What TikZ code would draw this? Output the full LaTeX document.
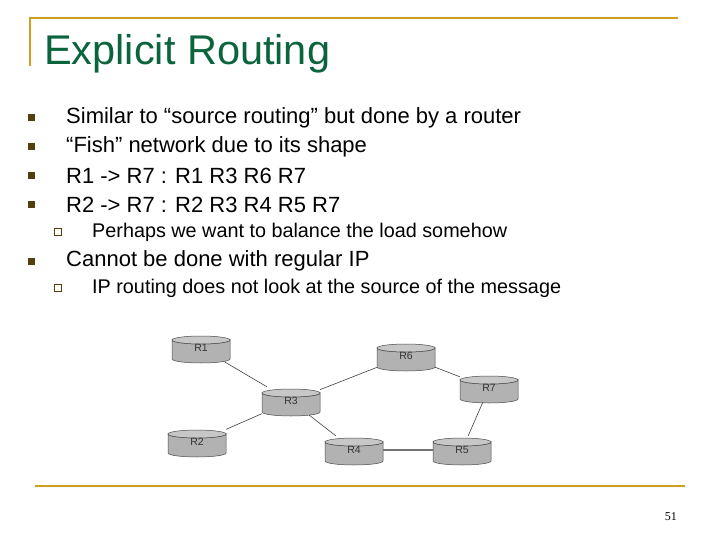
\documentclass[tikz,border=0pt]{standalone}
\usepackage{fontspec}
\setmainfont{Liberation Sans}
\newfontfamily\serifpg{Liberation Serif}
\definecolor{gold}{RGB}{204,160,30}
\definecolor{tgreen}{RGB}{10,100,60}
\begin{document}
\begin{tikzpicture}[x=1pt,y=-1pt,
 bul/.style={fill=black!60!gold, draw=none, minimum size=7pt, inner sep=0pt},
 sbul/.style={draw=black!60!gold, minimum size=6.5pt, inner sep=0pt, line width=0.6pt},
 txt/.style={anchor=west, font=\fontsize{22}{24}\selectfont, inner sep=0pt},
 stxt/.style={anchor=west, font=\fontsize{19.8}{22}\selectfont, inner sep=0pt},
 rt/.style={rectangle, minimum width=58pt, minimum height=28pt, inner sep=0pt, yshift=1pt, font=\fontsize{10.5}{12}\selectfont\color{black!80}},
 ln/.style={draw=black!75, line width=0.6pt}]
\useasboundingbox (0,0) rectangle (720,540);
\fill[white] (0,0) rectangle (720,540);
\draw[gold, line width=2.5pt] (30,18) -- (678,18);
\draw[gold, line width=2.5pt] (30,17) -- (30,66);
\node[anchor=base west, inner sep=0pt, text=tgreen, font=\fontsize{41.5}{46}\selectfont] (title) at (44,65) {Explicit Routing};
\foreach \y/\t [count=\i] in {118/{Similar to “source routing” but done by a router},147/{“Fish” network due to its shape},176/{R1 -> R7 : R1 R3 R6 R7},205/{R2 -> R7 : R2 R3 R4 R5 R7},261/{Cannot be done with regular IP}}{
 \node[bul] (b\i) at (31,\y) {};
 \node[txt] (t\i) at (66,\y) {\t};
}
\node[sbul] (s1) at (58,232) {};
\node[stxt] (st1) at (92,232) {Perhaps we want to balance the load somehow};
\node[sbul] (s2) at (58,288) {};
\node[stxt] (st2) at (92,288) {IP routing does not look at the source of the message};
\foreach \n/\x/\y in {R1/201/349,R6/406/357,R7/489/389,R3/291/402,R2/197/443,R4/354/451,R5/462/451}{
 \fill[black!30, draw=black!70, line width=0.5pt] (\x-29,\y-9) arc[start angle=180,end angle=360,x radius=29,y radius=-4] -- (\x+29,\y+10) arc[start angle=0,end angle=-180,x radius=29,y radius=-4] -- cycle;
 \draw[fill=black!22, draw=black!70, line width=0.5pt] (\x,\y-9) ellipse[x radius=29, y radius=4];
}
\node[rt] (R1) at (201,349) {R1};
\node[rt] (R6) at (406,357) {R6};
\node[rt] (R7) at (489,389) {R7};
\node[rt] (R3) at (291,402) {R3};
\node[rt] (R2) at (197,443) {R2};
\node[rt] (R4) at (354,451) {R4};
\node[rt] (R5) at (462,451) {R5};
\begin{scope}[on background layer/.try]
\end{scope}
\draw[ln] (R1) -- (R3);
\draw[ln] (R2) -- (R3);
\draw[ln] (R3) -- (R6);
\draw[ln] (R3) -- (R4);
\draw[ln] (R6) -- (R7);
\draw[ln] (R7) -- (R5);
\draw[draw=black!55, line width=1.2pt] (R4) -- (R5);
\draw[gold, line width=2.5pt] (35,486) -- (685,486);
\node[anchor=base east, inner sep=0pt, font=\fontsize{12}{14}\serifpg] (pg) at (677,520) {51};
\end{tikzpicture}
\end{document}
